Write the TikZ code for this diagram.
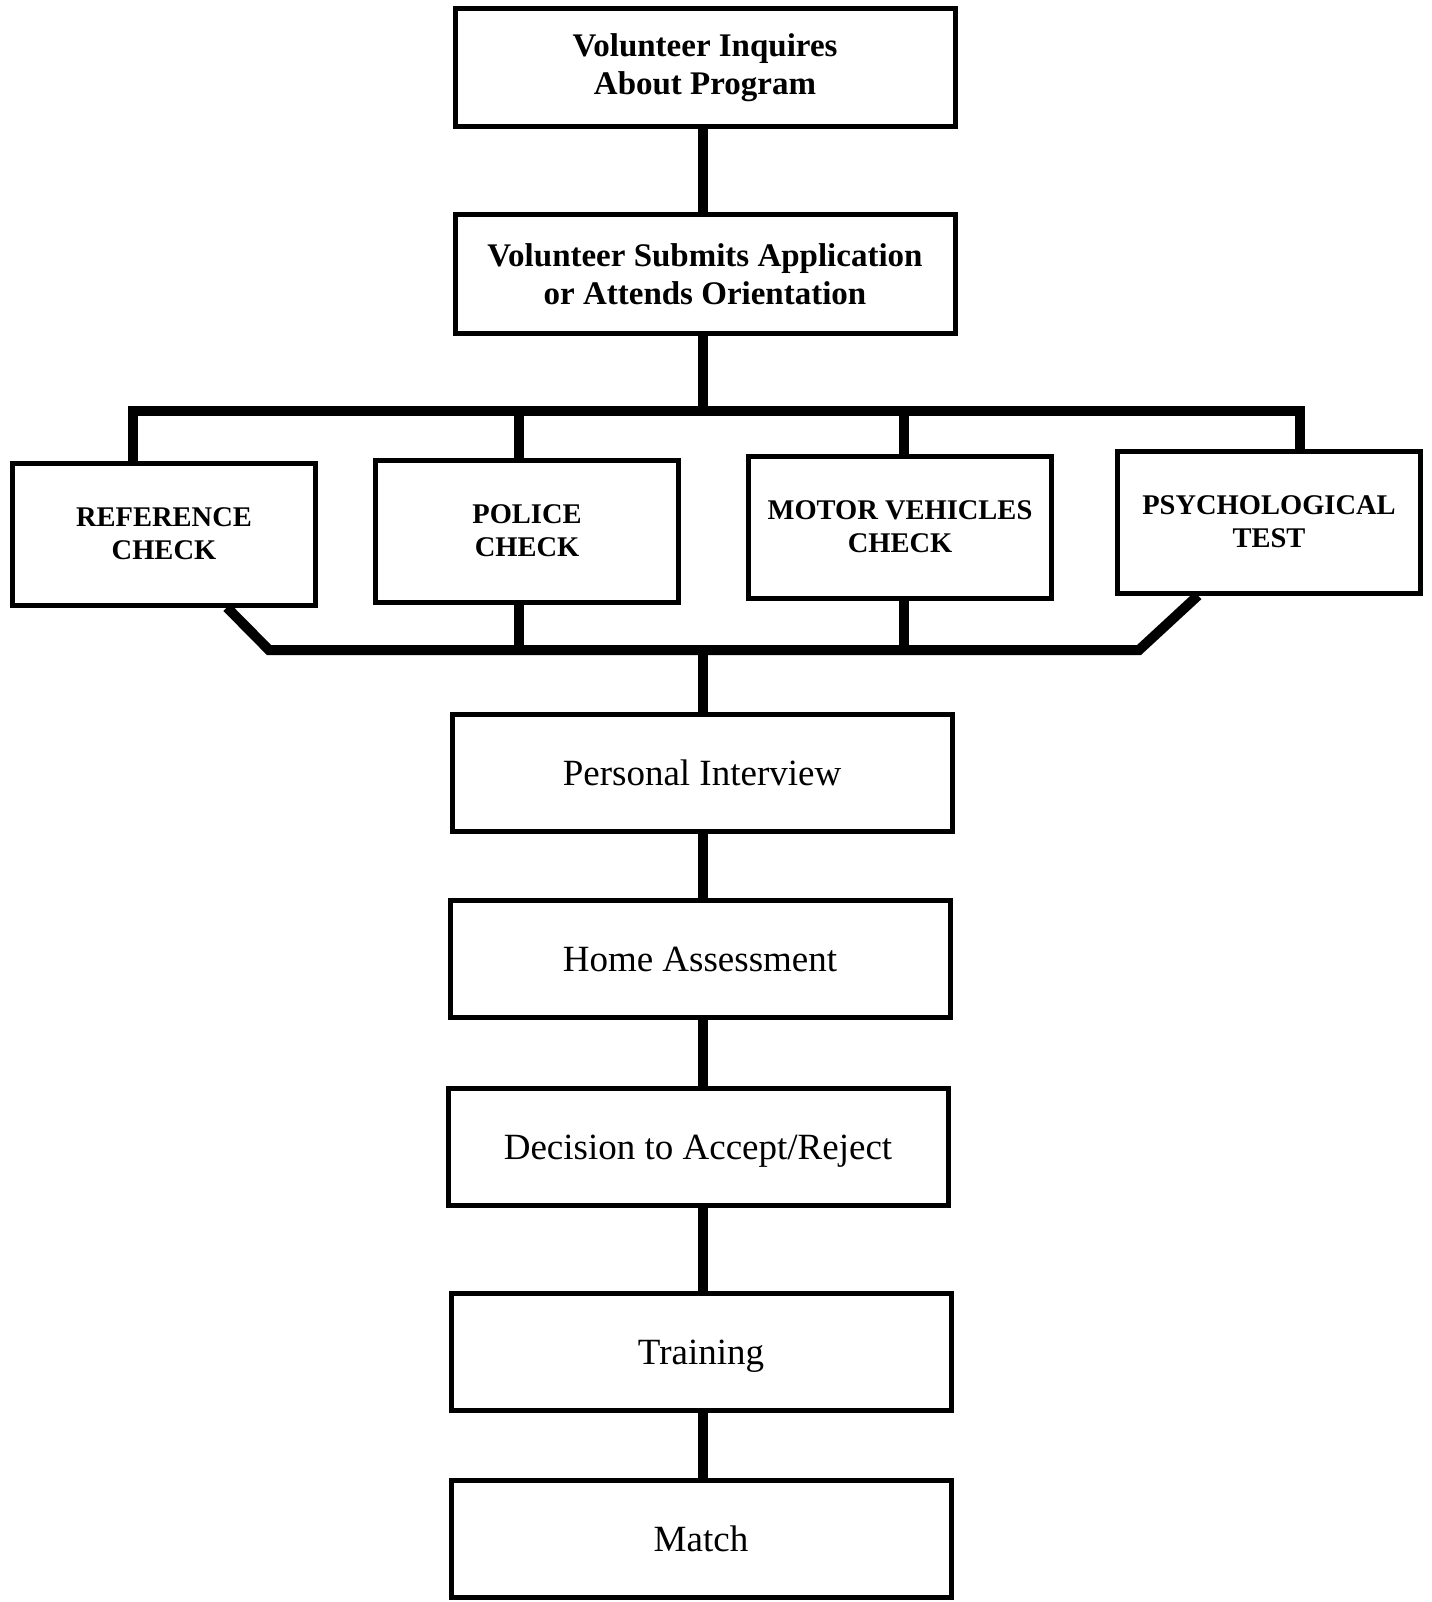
\documentclass[tikz,border=0pt]{standalone}
\usepackage{fontspec}
\setmainfont{Liberation Serif}
\usepackage{tikz}

\begin{document}
\begin{tikzpicture}[x=1pt,y=-1pt,
  topbox/.style={draw,line width=5pt,inner sep=0pt,minimum width=500pt,minimum height=118pt,align=center,font=\fontsize{33}{38}\selectfont\bfseries},
  chkbox/.style={draw,line width=5pt,inner sep=0pt,minimum width=303pt,minimum height=142pt,align=center,font=\fontsize{28.5}{33}\selectfont\bfseries},
  stage/.style={draw,line width=5pt,inner sep=0pt,minimum width=500pt,minimum height=117pt,text depth=0pt,font=\fontsize{37}{42}\selectfont},
  link/.style={line width=10pt}]
\useasboundingbox (0,0) rectangle (1431,1602);
\node[topbox] (inq) at (705,68) {Volunteer Inquires\\About Program};
\node[topbox] (sub) at (705,274) {Volunteer Submits Application\\or Attends Orientation};
\node[chkbox] (ref) at (164,534) {REFERENCE\\CHECK};
\node[chkbox] (pol) at (527,531) {POLICE\\CHECK};
\node[chkbox] (mot) at (900,527) {MOTOR VEHICLES\\CHECK};
\node[chkbox] (psy) at (1269,522) {PSYCHOLOGICAL\\TEST};
\node[stage] (per) at (702,773) {Personal Interview};
\node[stage] (home) at (700,959) {Home Assessment};
\node[stage] (dec) at (698,1147) {Decision to Accept/Reject};
\node[stage] (tra) at (701,1352) {Training};
\node[stage] (mat) at (701,1539) {Match};
\coordinate (bus) at (703,411);
\coordinate (busl) at (133,411);
\coordinate (busr) at (1300,411);
\coordinate (busp) at (519,411);
\coordinate (busm) at (904,411);
\coordinate (low) at (703,650);
\coordinate (lowl) at (269,650);
\coordinate (lowr) at (1139,650);
\draw[link] (inq.south -| bus) -- (sub.north -| bus);
\draw[link] (sub.south -| bus) -- (bus);
\draw[link] (busl |- ref.north) -- (busl) -- (busr) -- (busr |- psy.north);
\draw[link] (busp) -- (busp |- pol.north);
\draw[link] (busm) -- (busm |- mot.north);
\draw[link] (ref.south -| 227,0) -- (lowl) -- (lowr) -- (psy.south -| 1198,0);
\draw[link] (pol.south -| busp) -- (busp |- low);
\draw[link] (mot.south -| busm) -- (busm |- low);
\draw[link] (low) -- (per.north -| low);
\draw[link] (per.south -| low) -- (home.north -| low);
\draw[link] (home.south -| low) -- (dec.north -| low);
\draw[link] (dec.south -| low) -- (tra.north -| low);
\draw[link] (tra.south -| low) -- (mat.north -| low);
\end{tikzpicture}
\end{document}
